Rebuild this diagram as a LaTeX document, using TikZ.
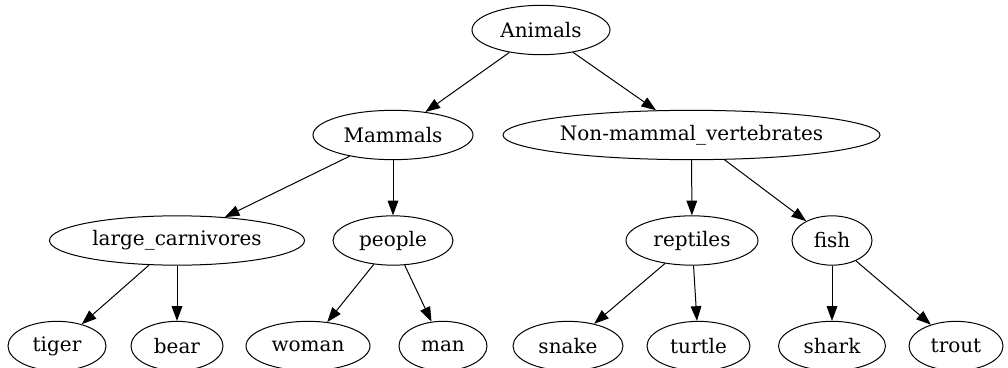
\documentclass[tikz,border=0pt]{standalone}
\usepackage{fontspec}
\setmainfont{DejaVu Serif}
\usetikzlibrary{arrows.meta, shapes.geometric}

\begin{document}
\begin{tikzpicture}[
            x=0.75pt, y=-0.75pt,
            every node/.style={font=\fontsize{15pt}{18pt}\selectfont},
            animal/.style={draw, ellipse, line width=0.75pt, inner sep=0pt, minimum height=37pt},
            arr/.style={-{Triangle[length=11pt, width=8pt]}, line width=0.75pt}
        ]
            \useasboundingbox (0,0) rectangle (1008,368);

            % root and classes
            \node[animal, minimum width=103.5pt] (animals) at (541,30) {Animals};
            \node[animal, minimum width=120pt] (mammals) at (393,135) {Mammals};
            \node[animal, minimum width=282.75pt] (nonmammals) at (691.5,135) {Non-mammal\_vertebrates};

            % groups
            \node[animal, minimum width=191.25pt] (carnivores) at (177,240.5) {large\_carnivores};
            \node[animal, minimum width=90pt] (people) at (393,240.5) {people};
            \node[animal, minimum width=99pt] (reptiles) at (692,240.5) {reptiles};
            \node[animal, minimum width=60pt] (fish) at (832,240.5) {fish};

            % leaves
            \node[animal, minimum width=73.5pt] (tiger) at (57,346) {tiger};
            \node[animal, minimum width=69pt] (bear) at (177,346) {bear};
            \node[animal, minimum width=93pt] (woman) at (308,346) {woman};
            \node[animal, minimum width=66pt] (man) at (443,346) {man};
            \node[animal, minimum width=82.5pt] (snake) at (568,346) {snake};
            \node[animal, minimum width=77.25pt] (turtle) at (698.5,346) {turtle};
            \node[animal, minimum width=80.25pt] (shark) at (832,346) {shark};
            \node[animal, minimum width=70.5pt] (trout) at (956,346) {trout};

            \draw[arr] (animals) -- (mammals);
            \draw[arr] (animals) -- (nonmammals);
            \draw[arr] (mammals) -- (carnivores);
            \draw[arr] (mammals) -- (people);
            \draw[arr] (nonmammals) -- (reptiles);
            \draw[arr] (nonmammals) -- (fish);
            \draw[arr] (carnivores) -- (tiger);
            \draw[arr] (carnivores) -- (bear);
            \draw[arr] (people) -- (woman);
            \draw[arr] (people) -- (man);
            \draw[arr] (reptiles) -- (snake);
            \draw[arr] (reptiles) -- (turtle);
            \draw[arr] (fish) -- (shark);
            \draw[arr] (fish) -- (trout);
        \end{tikzpicture}
\end{document}
